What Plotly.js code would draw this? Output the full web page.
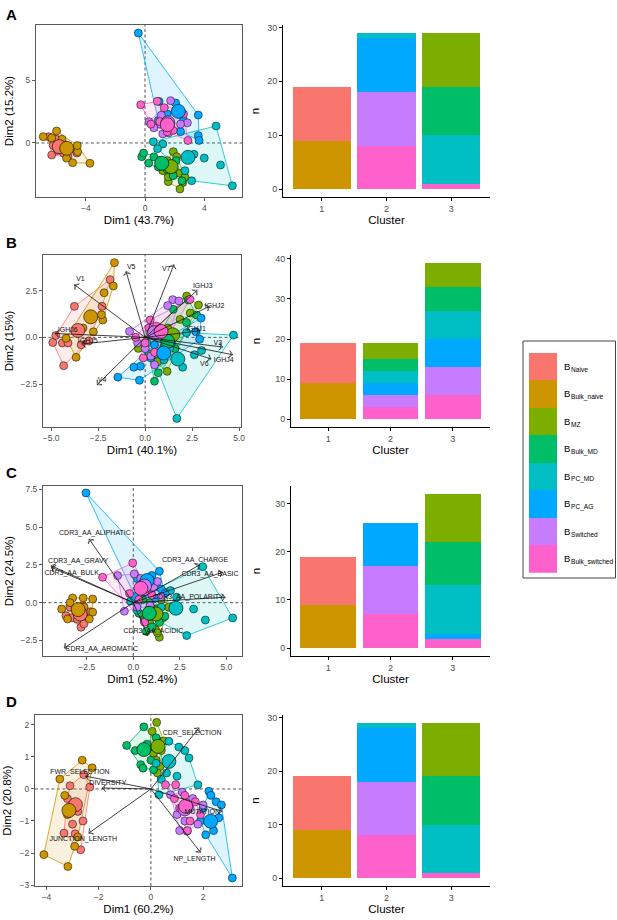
<!DOCTYPE html>
<html><head><meta charset="utf-8">
<script src="https://cdn.plot.ly/plotly-3.0.1.min.js"></script>
<style>html,body{margin:0;padding:0;background:#fff}#chart{width:617px;height:920px}</style>
</head><body><div id="chart"></div>
<script>
// ---------------- DATA ----------------
const GROUPS = ['Naive','Bulk_naive','MZ','Bulk_MD','PC_MD','PC_AG','Switched','Bulk_switched'];
const COLORS = ['#F8766D','#CD9600','#7CAE00','#00BE67','#00BFC4','#00A9FF','#C77CFF','#FF61CC'];
const LEGEND_MAIN = 'B';
const LEGEND_SUBS = ['Naive','Bulk_naive','MZ','Bulk_MD','PC_MD','PC_AG','Switched','Bulk_switched'];
const CLUSTERS = [1,2,3];

// Panel A individuals
const A_Naive = [[-6.5,0.5],[-6.3,-0.95],[-6.0,0.3],[-5.9,-0.6],[-5.5,-0.8],[-5.2,-1.1],[-4.8,-0.5],[-4.6,-0.8],[-5.6,0.1],[-6.2,-0.2]];
const A_Bulk_naive = [[-6.87,0.5],[-5.97,0.95],[-3.72,-1.61],[-4.89,-1.56],[-4.55,-0.69],[-4.57,-0.2],[-5.3,-1.2],[-6.3,0.4],[-5.6,0.3]];
const A_MZ = [[1.91,-0.69],[2.14,-1.09],[2.36,-2.41],[2.55,-3.15],[2.36,-3.65],[1.57,-3.07],[1.57,-2.7],[1.2,-2.2],[2.7,-2.7],[1.5,-1.4]];
const A_Bulk_MD = [[-0.22,-1.09],[-0.1,-0.8],[0.25,-1.6],[0.6,-1.1],[0.9,-1.9],[1.5,-2.1],[1.9,-2.6],[2.5,-3.0],[2.1,-1.4]];
const A_PC_MD = [[4.8,1.35],[5.9,-3.4],[3.15,-3.0],[4.0,-1.2],[5.1,-1.75],[0.56,0.1],[1.2,-0.08],[0.85,-0.45],[2.7,-2.2],[3.3,-0.9]];
const A_PC_AG = [[-0.45,8.73],[3.6,2.22],[3.6,0.58],[3.65,0.2],[2.07,3.17],[1.5,2.3],[2.6,1.8],[0.95,3.3],[2.4,0.9],[0.9,1.8]];
const A_Switched = [[1.73,3.36],[0.27,1.69],[2.86,1.6],[2.4,1.5],[1.0,1.5],[1.2,0.72],[1.6,0.8],[1.1,2.2],[0.6,1.2],[2.1,2.6]];
const A_Bulk_switched = [[-0.29,3.04],[0.83,3.31],[1.3,2.8],[1.0,1.7],[1.9,1.0],[2.9,0.2],[0.4,1.5],[2.6,2.3],[1.5,0.9]];
const A_cenX = [-5.79,-5.29,1.76,1.13,2.9,2.25,1.55,1.51];
const A_cenY = [-0.29,-0.42,-1.88,-1.61,-1.14,2.51,1.6,1.45];

// Panel B individuals
const B_Naive = [[-3.76,1.66],[-1.86,3.09],[-2.29,1.66],[-4.91,-0.27],[-4.33,-1.52],[-4.75,0.1],[-4.4,-0.3],[-4.1,-0.3],[-3.4,-0.4],[-3.0,-0.2]];
const B_Bulk_naive = [[-1.63,4.0],[-1.69,2.75],[-2.18,2.39],[-2.25,0.93],[-2.75,0.3],[-3.67,-1.07],[-4.2,-0.05],[-2.32,1.21],[-3.3,0.5]];
const B_MZ = [[2.21,2.21],[2.84,1.73],[1.86,0.96],[-0.36,-0.59],[1.17,-1.82],[0.67,-1.3],[1.2,0.5],[0.9,-0.8],[2.4,1.3],[0.3,-1.0]];
const B_Bulk_MD = [[2.3,2.0],[2.75,1.19],[1.5,1.5],[0.5,-2.35],[0.7,-1.9],[1.0,-0.5],[1.6,-0.6],[0.2,-0.9],[2.2,0.8]];
const B_PC_MD = [[4.7,0.12],[1.69,-4.34],[2.62,-0.93],[2.2,0.25],[0.1,-0.3],[1.3,-0.6],[2.0,-1.6],[1.0,-1.2],[3.0,-0.7],[0.5,-0.9]];
const B_PC_AG = [[-1.45,-2.13],[-0.3,-2.3],[-0.25,-1.55],[2.98,1.03],[2.7,0.3],[2.9,-0.1],[0.5,-0.4],[1.4,-0.3],[-0.6,-1.6],[0.3,-1.1]];
const B_Switched = [[1.47,2.02],[1.8,1.95],[-0.83,0.32],[0.5,-1.47],[0.0,-0.6],[0.8,0.3],[1.2,1.7],[0.3,-1.0],[-0.4,-0.3],[1.0,-0.9]];
const B_Bulk_switched = [[2.39,2.03],[0.27,0.93],[-0.5,0.0],[0.2,0.5],[0.0,-0.3],[0.5,-0.8],[-0.1,-1.1],[1.3,0.2],[0.6,0.6]];
const B_cenX = [-3.58,-2.89,1.47,1.2,1.74,0.99,0.5,0.85];
const B_cenY = [0.37,1.1,0.14,-0.21,-1.16,-0.84,0.25,0.32];
const B_varNames = ['V1','V5','V7','IGHJ3','IGHJ2','IGHJ1','V3','IGHJ4','V6','V4','IGHJ6','IGHJ5'];
const B_varX = [-3.76,-1.01,1.53,2.77,3.42,2.9,4.13,4.66,3.51,-2.55,-4.79,-3.37];
const B_varY = [2.82,3.53,3.89,2.52,1.66,0.35,-0.52,-0.93,-1.16,-2.54,0.21,-0.36];
const B_labX = [-3.44,-0.74,1.12,3.07,3.69,2.71,3.87,4.18,3.15,-2.29,-4.11,-3.05];
const B_labY = [3.09,3.77,3.66,2.73,1.66,0.44,-0.3,-1.23,-1.43,-2.27,0.37,-0.21];

// Panel C individuals
const C_Naive = [[-3.62,-0.86],[-2.81,-1.63],[-2.65,-1.4],[-3.3,-1.0],[-3.0,-1.1],[-2.5,-0.9],[-3.1,-0.5],[-2.7,-0.2],[-2.3,-0.6],[-3.4,-0.3]];
const C_Bulk_naive = [[-3.85,-0.42],[-3.26,0.31],[-2.69,0.31],[-2.18,0.24],[-2.18,-0.63],[-3.53,-1.08],[-2.36,-1.08],[-2.64,-0.3],[-3.4,0.0]];
const C_MZ = [[1.4,-2.29],[1.76,0.69],[1.6,-1.0],[1.2,-1.8],[0.9,-1.4],[1.5,0.2],[1.1,-0.4],[0.6,-1.0],[1.9,-0.3],[1.3,-2.0]];
const C_Bulk_MD = [[0.3,-0.7],[0.6,-1.2],[1.0,-1.6],[1.4,-1.3],[1.3,-0.4],[0.9,0.0],[0.5,0.2],[1.7,-0.9],[0.7,-1.9]];
const C_PC_MD = [[3.73,2.38],[5.34,-1.01],[2.87,-2.18],[3.87,-1.15],[3.24,-0.42],[2.33,0.36],[-0.15,0.1],[0.2,-0.5],[1.5,-0.3],[2.0,0.8]];
const C_PC_AG = [[-2.54,7.26],[1.4,2.08],[1.5,0.9],[0.2,1.6],[0.9,1.1],[0.1,0.4],[1.2,0.3],[0.6,0.7],[1.7,0.6],[1.0,1.8]];
const C_Switched = [[-0.84,1.79],[-0.48,-0.57],[0.05,1.9],[0.4,1.6],[0.7,0.7],[1.1,1.0],[0.2,-0.3],[1.5,0.4],[0.9,-0.2],[1.3,1.4]];
const C_Bulk_switched = [[-1.65,1.68],[-0.03,2.63],[0.5,1.3],[1.0,0.5],[0.3,0.2],[-0.2,0.6],[0.8,-0.5],[1.2,-0.9],[0.6,-1.3]];
const C_cenX = [-2.85,-2.96,1.22,0.86,2.29,0.74,0.6,0.41];
const C_cenY = [-0.75,-0.46,-0.75,-0.7,-0.37,1.46,1.1,0.95];
const C_varNames = ['CDR3_AA_ALIPHATIC','CDR3_AA_GRAVY','CDR3_AA_BULK','CDR3_AA_CHARGE','CDR3_AA_BASIC','CDR3_AA_POLARITY','CDR3_AA_ACIDIC','CDR3_AA_AROMATIC'];
const C_varX = [-2.37,-4.42,-4.4,3.55,4.8,4.95,0.77,-3.71];
const C_varY = [4.21,2.45,2.34,2.49,2.01,0.36,-2.18,-3.0];
const C_labX = [-2.06,-2.96,-3.31,3.32,4.12,2.96,1.08,-1.7];
const C_labY = [4.59,2.71,1.94,2.78,1.88,0.36,-1.92,-3.06];

// Panel D individuals
const D_Naive = [[-2.57,0.45],[-2.34,0.06],[-2.69,-1.9],[-3.33,-1.38],[-3.1,0.1],[-3.2,-0.3],[-2.8,-0.7],[-3.0,-1.1],[-2.6,-1.0],[-2.9,-1.4]];
const D_Bulk_naive = [[-2.63,0.9],[-2.25,0.66],[-3.49,0.31],[-4.1,-2.05],[-3.18,-2.42],[-2.92,-1.79],[-3.2,-0.8],[-3.3,-0.2],[-2.8,-1.5]];
const D_MZ = [[0.22,2.08],[0.05,1.8],[0.3,1.5],[0.1,1.1],[0.4,1.2],[0.35,0.7],[0.2,0.9],[0.5,1.5],[-0.1,1.3],[0.25,0.5]];
const D_Bulk_MD = [[-0.93,1.36],[-0.27,1.94],[-0.39,0.76],[-0.3,0.65],[0.0,0.9],[-0.6,1.2],[0.2,1.6],[-0.15,1.4],[0.1,0.6]];
const D_PC_MD = [[0.69,1.49],[1.07,1.31],[1.46,0.97],[1.3,1.2],[1.8,0.13],[0.31,-0.18],[0.4,0.3],[0.6,0.5],[1.0,0.4],[0.2,0.8]];
const D_PC_AG = [[3.12,-2.78],[2.1,-1.43],[2.22,-0.07],[2.5,-0.4],[2.6,-0.9],[2.0,-0.6],[2.4,-1.3],[1.9,-1.0],[2.7,-0.5],[2.3,-0.2]];
const D_Switched = [[0.75,-0.18],[1.2,-0.1],[1.6,-0.3],[2.0,-0.5],[1.0,-0.8],[1.3,-1.0],[1.39,-1.32],[1.8,-1.1],[1.5,-0.6],[1.1,-1.3]];
const D_Bulk_switched = [[0.56,0.13],[0.95,0.13],[1.3,-0.2],[1.7,-0.4],[1.1,-0.6],[1.5,-1.0],[1.9,-0.8],[0.9,-0.3],[1.4,-1.3]];
const D_cenX = [-2.89,-3.14,0.27,-0.27,0.69,2.29,1.3,1.33];
const D_cenY = [-0.49,-0.67,1.33,1.23,0.86,-1.01,-0.62,-0.54];
const D_varNames = ['CDR_SELECTION','FWR_SELECTION','DIVERSITY','JUNCTION_LENGTH','MUTATION','NP_LENGTH'];
const D_varX = [1.84,-2.5,-1.87,-2.38,2.73,1.9];
const D_varY = [1.91,0.4,0.03,-1.38,-0.7,-1.98];
const D_labX = [1.58,-2.72,-1.65,-2.59,1.97,1.67];
const D_labY = [1.75,0.53,0.19,-1.56,-0.73,-2.19];

// Bar counts per cluster (cluster 1,2,3), same group order
const A_counts = [[10,0,0],[9,0,0],[0,0,10],[0,0,9],[0,1,9],[0,10,0],[0,10,0],[0,8,1]];
const B_counts = [[10,0,0],[9,0,0],[0,4,6],[0,3,6],[0,3,7],[0,3,7],[0,3,7],[0,3,6]];
const C_counts = [[10,0,0],[9,0,0],[0,0,10],[0,0,9],[0,0,10],[0,9,1],[0,10,0],[0,7,2]];
const D_counts = [[10,0,0],[9,0,0],[0,0,10],[0,0,9],[0,1,9],[0,10,0],[0,10,0],[0,8,1]];

// ---------------- BUILD ----------------
const W = 617, H = 920;
const FONT = 'Liberation Sans, Arial, Helvetica, sans-serif';
const dX = (a,b) => [a/W, b/W];
const dY = (top,bot) => [1-bot/H, 1-top/H];
function rgba(hex,a){const n=parseInt(hex.slice(1),16);return `rgba(${n>>16&255},${n>>8&255},${n&255},${a})`;}
function hull(pts){
  const p = pts.slice().sort((a,b)=>a[0]-b[0]||a[1]-b[1]);
  const cross=(o,a,b)=>(a[0]-o[0])*(b[1]-o[1])-(a[1]-o[1])*(b[0]-o[0]);
  const lo=[],up=[];
  for(const q of p){while(lo.length>=2&&cross(lo[lo.length-2],lo[lo.length-1],q)<=0)lo.pop();lo.push(q);}
  for(let i=p.length-1;i>=0;i--){const q=p[i];while(up.length>=2&&cross(up[up.length-2],up[up.length-1],q)<=0)up.pop();up.push(q);}
  up.pop();lo.pop();const h=lo.concat(up);h.push(h[0]);return h;
}

const traces=[], annotations=[], shapes=[];
const layout = {width:W,height:H,margin:{l:0,r:0,t:0,b:0},showlegend:false,barmode:'stack',
  paper_bgcolor:'#ffffff',plot_bgcolor:'rgba(0,0,0,0)',font:{family:FONT,color:'#000'}};

const panels = [
  {pts:[A_Naive,A_Bulk_naive,A_MZ,A_Bulk_MD,A_PC_MD,A_PC_AG,A_Switched,A_Bulk_switched], cx:A_cenX, cy:A_cenY,
   vars:null, counts:A_counts, sx:[36,242], sy:[25,197], bx:[283,490], xr:[-7.36,6.55], yr:[-4.29,9.37],
   xt:[-4,0,4], yt:[0,5], fmt:'', xtitle:'Dim1 (43.7%)', ytitle:'Dim2 (15.2%)', br:[-1.45,30.45], bt:[0,10,20,30], letter:'A', ly:14, ysd:9, bsd:5},
  {pts:[B_Naive,B_Bulk_naive,B_MZ,B_Bulk_MD,B_PC_MD,B_PC_AG,B_Switched,B_Bulk_switched], cx:B_cenX, cy:B_cenY,
   vars:[B_varNames,B_varX,B_varY,B_labX,B_labY], counts:B_counts, sx:[43,241], sy:[255,427], bx:[291,490], xr:[-5.43,5.1], yr:[-4.8,4.41],
   xt:[-5,-2.5,0,2.5,5], yt:[-2.5,0,2.5], fmt:'.1f', xtitle:'Dim1 (40.1%)', ytitle:'Dim2 (15%)', br:[-1.95,40.95], bt:[0,10,20,30,40], letter:'B', ly:243, ysd:4, bsd:12},
  {pts:[C_Naive,C_Bulk_naive,C_MZ,C_Bulk_MD,C_PC_MD,C_PC_AG,C_Switched,C_Bulk_switched], cx:C_cenX, cy:C_cenY,
   vars:[C_varNames,C_varX,C_varY,C_labX,C_labY], counts:C_counts, sx:[43,242], sy:[486,656], bx:[291,490], xr:[-4.85,5.84], yr:[-3.53,7.72],
   xt:[-2.5,0,2.5,5], yt:[-2.5,0,2.5,5,7.5], fmt:'.1f', xtitle:'Dim1 (52.4%)', ytitle:'Dim2 (24.5%)', br:[-1.6,33.6], bt:[0,10,20,30], letter:'C', ly:472, ysd:4, bsd:12},
  {pts:[D_Naive,D_Bulk_naive,D_MZ,D_Bulk_MD,D_PC_MD,D_PC_AG,D_Switched,D_Bulk_switched], cx:D_cenX, cy:D_cenY,
   vars:[D_varNames,D_varX,D_varY,D_labX,D_labY], counts:D_counts, sx:[35,242], sy:[715,886], bx:[283,490], xr:[-4.44,3.49], yr:[-3.03,2.31],
   xt:[-4,-2,0,2], yt:[-3,-2,-1,0,1,2], fmt:'', xtitle:'Dim1 (60.2%)', ytitle:'Dim2 (20.8%)', br:[-1.45,30.45], bt:[0,10,20,30], letter:'D', ly:701, ysd:5, bsd:5}
];

const axN = (n,l) => n===1 ? l : l+n;
const axK = (n,l) => n===1 ? l+'axis' : l+'axis'+n;
const tickFont = {size:8.5,color:'#4D4D4D',family:FONT};
const titleFont = {size:11.5,color:'#000',family:FONT};

panels.forEach((P,i)=>{
  const ns = 2*i+1, nb = 2*i+2;
  const xs = axN(ns,'x'), ys = axN(ns,'y'), xb = axN(nb,'x'), yb = axN(nb,'y');
  layout[axK(ns,'x')] = {domain:dX(P.sx[0],P.sx[1]), anchor:ys, range:P.xr, tickvals:P.xt, tickformat:P.fmt,
    showline:true, mirror:true, linecolor:'#5a5a5a', linewidth:1, ticks:'outside', ticklen:3, tickcolor:'#5a5a5a',
    tickfont:tickFont, showgrid:false, zeroline:false, title:{text:P.xtitle, font:titleFont, standoff:3}};
  layout[axK(ns,'y')] = {domain:dY(P.sy[0],P.sy[1]), anchor:xs, range:P.yr, tickvals:P.yt, tickformat:P.fmt,
    showline:true, mirror:true, linecolor:'#5a5a5a', linewidth:1, ticks:'outside', ticklen:3, tickcolor:'#5a5a5a',
    tickfont:tickFont, showgrid:false, zeroline:false, title:{text:P.ytitle, font:titleFont, standoff:P.ysd}};
  layout[axK(nb,'x')] = {domain:dX(P.bx[0],P.bx[1]), anchor:yb, range:[0.4,3.6], tickvals:CLUSTERS,
    showline:true, linecolor:'#000', linewidth:1, ticks:'outside', ticklen:3, tickcolor:'#000',
    tickfont:{size:9,color:'#4D4D4D',family:FONT}, showgrid:false, zeroline:false, title:{text:'Cluster', font:titleFont, standoff:3}};
  layout[axK(nb,'y')] = {domain:dY(P.sy[0],P.sy[1]), anchor:xb, range:P.br, tickvals:P.bt,
    showline:true, linecolor:'#000', linewidth:1, ticks:'outside', ticklen:3, tickcolor:'#000',
    tickfont:{size:9,color:'#4D4D4D',family:FONT}, showgrid:false, zeroline:false, title:{text:'n', font:titleFont, standoff:P.bsd}};

  // dashed zero lines
  shapes.push({type:'line', xref:xs, yref:ys+' domain', x0:0, x1:0, y0:0, y1:1, line:{color:'#555', width:1, dash:'3px,2.5px'}, layer:'below'});
  shapes.push({type:'line', xref:xs+' domain', yref:ys, x0:0, x1:1, y0:0, y1:0, line:{color:'#555', width:1, dash:'3px,2.5px'}, layer:'below'});

  // convex hulls
  P.pts.forEach((g,k)=>{
    const h = hull(g);
    traces.push({type:'scatter', mode:'lines', xaxis:xs, yaxis:ys, x:h.map(p=>p[0]), y:h.map(p=>p[1]),
      fill:'toself', fillcolor:rgba(COLORS[k],0.13), line:{color:COLORS[k], width:0.8}, hoverinfo:'skip'});
  });
  // individuals
  P.pts.forEach((g,k)=>{
    traces.push({type:'scatter', mode:'markers', xaxis:xs, yaxis:ys, x:g.map(p=>p[0]), y:g.map(p=>p[1]), name:GROUPS[k],
      marker:{size:8, color:COLORS[k], line:{color:'#000', width:0.5}}, cliponaxis:false});
  });
  // group means
  P.cx.forEach((cx,k)=>{
    traces.push({type:'scatter', mode:'markers', xaxis:xs, yaxis:ys, x:[cx], y:[P.cy[k]], name:GROUPS[k]+' mean',
      marker:{size:14, color:COLORS[k], line:{color:'#000', width:0.6}}, cliponaxis:false});
  });
  // variable arrows (line from origin + arrow marker at head) and labels
  if(P.vars){
    const [nm,vx,vy,lx,ly] = P.vars;
    nm.forEach((v,k)=>{
      traces.push({type:'scatter', mode:'lines+markers', xaxis:xs, yaxis:ys, x:[0,vx[k]], y:[0,vy[k]], name:v,
        line:{color:'#111', width:0.8},
        marker:{symbol:['circle','arrow-wide-open'], size:[0,5], angleref:'previous', color:'#111', line:{color:'#111', width:0.8}},
        cliponaxis:false, hoverinfo:'name'});
    });
    traces.push({type:'scatter', mode:'text', xaxis:xs, yaxis:ys, x:lx, y:ly, text:nm,
      textfont:{size:7, color:'#111', family:FONT}, textposition:'middle center', cliponaxis:false, hoverinfo:'skip'});
  }
  // stacked bars (bottom -> top is reverse group order)
  for(let k=GROUPS.length-1;k>=0;k--){
    traces.push({type:'bar', xaxis:xb, yaxis:yb, x:CLUSTERS, y:P.counts[k], width:0.9, name:GROUPS[k],
      marker:{color:COLORS[k], line:{width:0}}, hoverinfo:'name+y'});
  }
  annotations.push({xref:'paper', yref:'paper', x:11/W, y:1-P.ly/H, text:'<b>'+P.letter+'</b>', showarrow:false,
    font:{size:15, color:'#000', family:FONT}, xanchor:'center', yanchor:'middle'});
});

// legend: keys on their own axis, labels (B + subscript) as annotations
const LEG_TOP = 352.7, LEG_KEY = 27.5;
layout.xaxis9 = {domain:dX(529,557), anchor:'y9', range:[0,1], visible:false, fixedrange:true};
layout.yaxis9 = {domain:dY(LEG_TOP, LEG_TOP+8*LEG_KEY), anchor:'x9', type:'category', categoryorder:'array',
  categoryarray:GROUPS.slice().reverse(), range:[-0.5,7.5], visible:false, fixedrange:true};
traces.push({type:'bar', orientation:'h', xaxis:'x9', yaxis:'y9', y:GROUPS, x:GROUPS.map(()=>1), width:1,
  marker:{color:COLORS, line:{width:0}}, hoverinfo:'skip'});
LEGEND_SUBS.forEach((t,k)=>{
  const yc = LEG_TOP+(k+0.5)*LEG_KEY;
  annotations.push({xref:'paper', yref:'paper', x:562/W, y:1-yc/H, text:LEGEND_MAIN, showarrow:false,
    xanchor:'left', yanchor:'middle', font:{size:9.5, color:'#000', family:FONT}});
  annotations.push({xref:'paper', yref:'paper', x:568.5/W, y:1-(yc+2.8)/H, text:t, showarrow:false,
    xanchor:'left', yanchor:'middle', font:{size:6.6, color:'#000', family:FONT}});
});
shapes.push({type:'rect', xref:'paper', yref:'paper', x0:523/W, x1:615.5/W, y0:1-578/H, y1:1-341/H,
  line:{color:'#444', width:1}, fillcolor:'rgba(0,0,0,0)'});

layout.annotations = annotations;
layout.shapes = shapes;
Plotly.newPlot('chart', traces, layout, {displayModeBar:false, staticPlot:true});
</script></body></html>
